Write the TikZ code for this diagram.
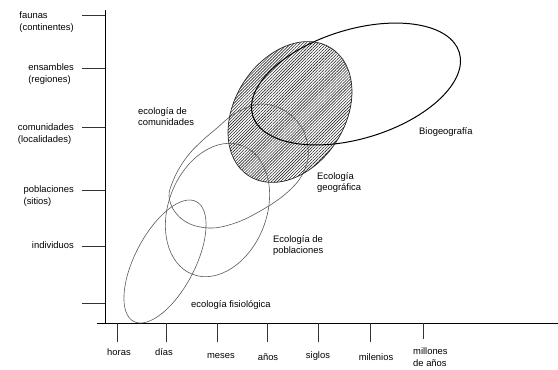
\documentclass[tikz,border=0pt]{standalone}
\usepackage{fontspec}
\setmainfont{Liberation Sans}
\usetikzlibrary{patterns.meta}
\begin{document}
\begin{tikzpicture}[x=1pt,y=-1pt,
	lbl/.style={font=\fontsize{9.4}{11.5}\selectfont, inner sep=0pt, align=left},
	axtick/.style={line width=0.6pt, black!80},
	fieldline/.style={line width=0.6pt, black!65},
	]
	\useasboundingbox (0,0) rectangle (558,370);
	\pgfmathsetmacro{\ax}{105}
	\pgfmathsetmacro{\ay}{323}
	% axes
	\coordinate (top) at (\ax,10);
	\coordinate (origin) at (\ax,\ay);
	\coordinate (start) at (97,\ay);
	\coordinate (end) at (558,\ay);
	\draw[line width=0.7pt] (top) -- (origin);
	\draw[line width=0.7pt] (start) -- (end);
	% spatial scale
	\node[lbl, anchor=east] (faunas) at (74,22) {faunas\\(continentes)};
	\node[lbl, anchor=east] (ensambles) at (74,74) {ensambles\\(regiones)};
	\node[lbl, anchor=east] (comunidades) at (74,134) {comunidades\\(localidades)};
	\node[lbl, anchor=east] (poblaciones) at (74,196) {poblaciones\\(sitios)};
	\node[lbl, anchor=east] (individuos) at (74,245) {individuos};
	\draw[axtick] (82,15) -- (\ax,15);
	\draw[axtick] (82,68) -- (\ax,68);
	\draw[axtick] (82,127) -- (\ax,127);
	\draw[axtick] (82,190) -- (\ax,190);
	\draw[axtick] (82,246) -- (\ax,246);
	\draw[axtick] (82,303) -- (\ax,303);
	% time scale
	\draw[axtick] (117,\ay) -- (117,342);
	\draw[axtick] (166,\ay) -- (166,342);
	\draw[axtick] (217,\ay) -- (217,342);
	\draw[axtick] (267,\ay) -- (267,342);
	\draw[axtick] (318,\ay) -- (318,342);
	\draw[axtick] (370,\ay) -- (370,342);
	\draw[axtick] (423,\ay) -- (423,339);
	\node[lbl] (horas) at (119,352) {horas};
	\node[lbl] (dias) at (164,352) {días};
	\node[lbl] (meses) at (221,356) {meses};
	\node[lbl] (anos) at (268,357) {años};
	\node[lbl] (siglos) at (318,356) {siglos};
	\node[lbl] (milenios) at (376,357) {milenios};
	\node[lbl, anchor=north west] (millones) at (413,347) {millones\\[1pt]de años};
	% fields
	\fill[pattern={Lines[angle=45,distance=2.1pt,line width=0.6pt]}, pattern color=black!85]
		(290,112) circle [x radius=76pt, y radius=55pt, rotate=57];
	\draw[fieldline] (165,261.5) circle [x radius=67.6pt, y radius=30pt, rotate=62.4];
	\draw[fieldline] (217.5,210) circle [x radius=69pt, y radius=49pt, rotate=68.6];
	\draw[fieldline] plot[smooth cycle, tension=0.6] coordinates {(169,196) (173,181) (180,167) (190,153)
		(203,140) (217,128) (231,116) (246,108) (261,104) (277,107) (292,116) (303,130) (308,147)
		(307,163) (299,180) (283,196) (262,210) (238,222) (213,228) (190,224) (175,212)};
	\draw[line width=0.7pt, black!85] (290,112) circle [x radius=76pt, y radius=55pt, rotate=57];
	\draw[line width=1pt] (356,84) circle [x radius=108pt, y radius=54.5pt, rotate=17];
	\node[lbl, anchor=west] (ecocom) at (138,116.5) {ecología de\\comunidades};
	\node[lbl, anchor=west] (ecogeo) at (317,182.5) {Ecología\\geográfica};
	\node[lbl, anchor=west] (ecopob) at (273,245.5) {Ecología de\\poblaciones};
	\node[lbl, anchor=west] (ecofis) at (191,305) {ecología fisiológica};
	\node[lbl, anchor=west] (biogeo) at (419,132) {Biogeografía};
\end{tikzpicture}
\end{document}
